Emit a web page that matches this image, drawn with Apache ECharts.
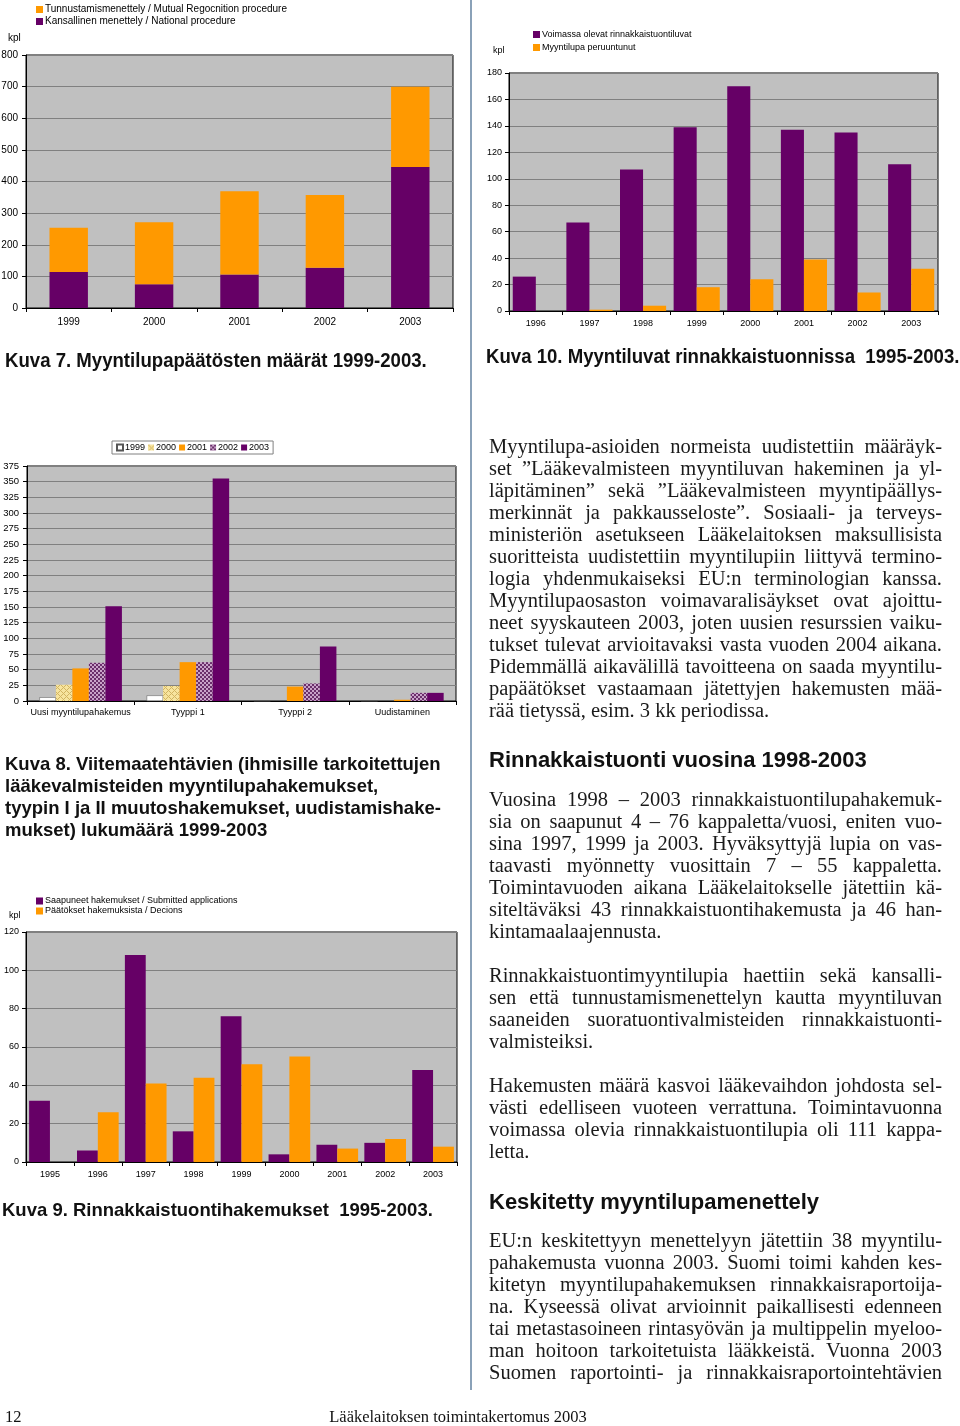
<!DOCTYPE html>
<html>
<head>
<meta charset="utf-8">
<script src="https://cdn.jsdelivr.net/npm/echarts@6/dist/echarts.min.js"></script>
<style>
  html,body{margin:0;padding:0;background:#fff;}
  #page{position:relative;width:960px;height:1426px;overflow:hidden;background:#fff;}
  #chart{position:absolute;left:0;top:0;width:960px;height:1426px;}
  .cap{position:absolute;font-family:'Liberation Sans',Arial,sans-serif;font-weight:bold;color:#111;white-space:nowrap;font-size:20px;line-height:22px;transform:scaleX(0.93);transform-origin:0 0;}
  .cap2{position:absolute;font-family:'Liberation Sans',Arial,sans-serif;font-weight:bold;color:#111;white-space:nowrap;font-size:18.5px;line-height:22px;}
  .head{position:absolute;left:489px;font-family:'Liberation Sans',Arial,sans-serif;font-weight:bold;color:#111;white-space:nowrap;font-size:22px;line-height:24px;}
  .para{position:absolute;left:489px;width:453px;font-family:'Liberation Serif','Times New Roman',serif;font-size:20.5px;line-height:22px;color:#1a1a1a;}
  .para div{text-align:justify;text-align-last:justify;white-space:nowrap;}
  .para div.last{text-align-last:left;}
  .foot{position:absolute;font-family:'Liberation Serif','Times New Roman',serif;font-size:16.5px;line-height:18px;color:#111;white-space:nowrap;}
  #divider{position:absolute;left:470px;top:0;width:1.5px;height:1390px;background:#8aa1b8;}
</style>
</head>
<body>
<div id="page">
  <div id="chart"></div>
  <div id="divider"></div>

  <div class="cap" style="left:5px;top:349px;">Kuva 7. Myyntilupapäätösten määrät 1999-2003.</div>
  <div class="cap" style="left:486px;top:345px;">Kuva 10. Myyntiluvat rinnakkaistuonnissa&nbsp; 1995-2003.</div>

  <div class="cap2" style="left:5px;top:753px;">Kuva 8. Viitemaatehtävien (ihmisille tarkoitettujen<br>lääkevalmisteiden myyntilupahakemukset,<br>tyypin I ja II muutoshakemukset, uudistamishake-<br>mukset) lukumäärä 1999-2003</div>
  <div class="cap2" style="left:2px;top:1199px;">Kuva 9. Rinnakkaistuontihakemukset&nbsp; 1995-2003.</div>

  <div class="para" style="top:435px;">
    <div>Myyntilupa-asioiden normeista uudistettiin määräyk-</div>
    <div>set ”Lääkevalmisteen myyntiluvan hakeminen ja yl-</div>
    <div>läpitäminen” sekä ”Lääkevalmisteen myyntipäällys-</div>
    <div>merkinnät ja pakkausseloste”. Sosiaali- ja terveys-</div>
    <div>ministeriön asetukseen Lääkelaitoksen maksullisista</div>
    <div>suoritteista uudistettiin myyntilupiin liittyvä termino-</div>
    <div>logia yhdenmukaiseksi EU:n terminologian kanssa.</div>
    <div>Myyntilupaosaston voimavaralisäykset ovat ajoittu-</div>
    <div>neet syyskauteen 2003, joten uusien resurssien vaiku-</div>
    <div>tukset tulevat arvioitavaksi vasta vuoden 2004 aikana.</div>
    <div>Pidemmällä aikavälillä tavoitteena on saada myyntilu-</div>
    <div>papäätökset vastaamaan jätettyjen hakemusten mää-</div>
    <div class="last">rää tietyssä, esim. 3 kk periodissa.</div>
  </div>

  <div class="head" style="top:748px;">Rinnakkaistuonti vuosina 1998-2003</div>

  <div class="para" style="top:788px;">
    <div>Vuosina 1998 – 2003 rinnakkaistuontilupahakemuk-</div>
    <div>sia on saapunut 4 – 76 kappaletta/vuosi, eniten vuo-</div>
    <div>sina 1997, 1999 ja 2003. Hyväksyttyjä lupia on vas-</div>
    <div>taavasti myönnetty vuosittain 7 – 55 kappaletta.</div>
    <div>Toimintavuoden aikana Lääkelaitokselle jätettiin kä-</div>
    <div>siteltäväksi 43 rinnakkaistuontihakemusta ja 46 han-</div>
    <div class="last">kintamaalaajennusta.</div>
  </div>

  <div class="para" style="top:964px;">
    <div>Rinnakkaistuontimyyntilupia haettiin sekä kansalli-</div>
    <div>sen että tunnustamismenettelyn kautta myyntiluvan</div>
    <div>saaneiden suoratuontivalmisteiden rinnakkaistuonti-</div>
    <div class="last">valmisteiksi.</div>
  </div>

  <div class="para" style="top:1074px;">
    <div>Hakemusten määrä kasvoi lääkevaihdon johdosta sel-</div>
    <div>västi edelliseen vuoteen verrattuna. Toimintavuonna</div>
    <div>voimassa olevia rinnakkaistuontilupia oli 111 kappa-</div>
    <div class="last">letta.</div>
  </div>

  <div class="head" style="top:1190px;">Keskitetty myyntilupamenettely</div>

  <div class="para" style="top:1229px;">
    <div>EU:n keskitettyyn menettelyyn jätettiin 38 myyntilu-</div>
    <div>pahakemusta vuonna 2003. Suomi toimi kahden kes-</div>
    <div>kitetyn myyntilupahakemuksen rinnakkaisraportoija-</div>
    <div>na. Kyseessä olivat arvioinnit paikallisesti edenneen</div>
    <div>tai metastasoineen rintasyövän ja multippelin myeloo-</div>
    <div>man hoitoon tarkoitetuista lääkkeistä. Vuonna 2003</div>
    <div>Suomen raportointi- ja rinnakkaisraportointehtävien</div>
  </div>

  <div class="foot" style="left:5px;top:1408px;">12</div>
  <div class="foot" style="left:258px;width:400px;text-align:center;top:1408px;">Lääkelaitoksen toimintakertomus 2003</div>
</div>

<script>
// ---- Kuva 7 ----
const years7 = ['1999', '2000', '2001', '2002', '2003'];
const national7 = [114, 75, 106, 127, 446];
const mutual7 = [140, 196, 263, 230, 254];

// ---- Kuva 10 ----
const years10 = ['1996', '1997', '1998', '1999', '2000', '2001', '2002', '2003'];
const valid10 = [26, 67, 107, 139, 170, 137, 135, 111];
const revoked10 = [0, 1, 4, 18, 24, 39, 14, 32];

// ---- Kuva 8 ----
const cats8 = ['Uusi myyntilupahakemus', 'Tyyppi 1', 'Tyyppi 2', 'Uudistaminen'];
const v8y1999 = [6, 9, 0, 0];
const v8y2000 = [26, 24, 0, 0];
const v8y2001 = [52, 62, 23, 2];
const v8y2002 = [61, 62, 28, 13];
const v8y2003 = [151, 355, 87, 13];

// ---- Kuva 9 ----
const years9 = ['1995', '1996', '1997', '1998', '1999', '2000', '2001', '2002', '2003'];
const submitted9 = [32, 6, 108, 16, 76, 4, 9, 10, 48];
const decisions9 = [0, 26, 41, 44, 51, 55, 7, 12, 8];

const FONT = "'Liberation Sans', Arial, Helvetica, sans-serif";
const PURPLE = '#660066', ORANGE = '#FF9900', PLOT = '#C0C0C0', GRIDLINE = '#808080';

function pattern(kind) {
  const c = document.createElement('canvas');
  const g = c.getContext('2d');
  if (kind === 'check') {
    c.width = 4; c.height = 4;
    g.fillStyle = '#C8A2C8'; g.fillRect(0, 0, 4, 4);
    g.fillStyle = '#6A2E6A'; g.fillRect(0, 0, 2, 2); g.fillRect(2, 2, 2, 2);
  } else {
    c.width = 6; c.height = 6;
    g.fillStyle = '#F7E49E'; g.fillRect(0, 0, 6, 6);
    g.fillStyle = '#D2B462';
    g.fillRect(0, 0, 1, 1); g.fillRect(3, 3, 1, 1);
    g.fillRect(1, 1, 1, 1); g.fillRect(2, 2, 1, 1);
    g.fillRect(4, 4, 1, 1); g.fillRect(5, 5, 1, 1);
    g.fillRect(5, 1, 1, 1); g.fillRect(1, 5, 1, 1);
    g.fillRect(4, 2, 1, 1); g.fillRect(2, 4, 1, 1);
  }
  return { image: c, repeat: 'repeat' };
}

function grid(l, t, w, h) {
  return { left: l, top: t, width: w, height: h, show: true, backgroundColor: PLOT,
    borderColor: '#000', borderWidth: 1, containLabel: false, outerBoundsMode: 'none' };
}
function yAxis(gi, max, interval, fs, margin) {
  return { type: 'value', gridIndex: gi, min: 0, max: max, interval: interval,
    axisLine: { show: true, lineStyle: { color: '#000', width: 1 } },
    axisTick: { show: true, length: 4, lineStyle: { color: '#000' } },
    axisLabel: { color: '#000', fontSize: fs, fontFamily: FONT, margin: margin },
    splitLine: { show: true, lineStyle: { color: GRIDLINE, width: 1 } } };
}
function xAxis(gi, data, fs, margin) {
  return { type: 'category', gridIndex: gi, data: data,
    axisLine: { show: true, onZero: false, lineStyle: { color: '#000', width: 1 } },
    axisTick: { show: true, length: 4, lineStyle: { color: '#000' } },
    axisLabel: { color: '#000', fontSize: fs, fontFamily: FONT, margin: margin, interval: 0 },
    splitLine: { show: false } };
}
function legend(left, top, names, fs, lh, gap, orient) {
  return { left: left, top: top, orient: orient || 'vertical', data: names, selectedMode: false,
    icon: 'rect', itemWidth: 7, itemHeight: 7, itemGap: gap, padding: 0,
    textStyle: { color: '#000', fontSize: fs, fontFamily: FONT, lineHeight: lh, padding: [0, 0, 0, -3] } };
}

const chart = echarts.init(document.getElementById('chart'));
const option = {
  animation: false,
  backgroundColor: 'transparent',
  grid: [
    grid(26, 55, 427, 253),
    grid(509, 73, 429, 238),
    grid(27, 466, 429, 235),
    grid(26, 932, 431, 230)
  ],
  xAxis: [
    xAxis(0, years7, 10, 9),
    xAxis(1, years10, 9, 8),
    xAxis(2, cats8, 9, 7),
    xAxis(3, years9, 9, 8)
  ],
  yAxis: [
    yAxis(0, 800, 100, 10, 8),
    yAxis(1, 180, 20, 9, 7),
    yAxis(2, 375, 25, 9.5, 8),
    yAxis(3, 120, 20, 9, 7)
  ],
  legend: [
    legend(36, 4, ['Tunnustamismenettely / Mutual Regocnition procedure', 'Kansallinen menettely / National procedure'], 10, 11, 1),
    legend(533, 29, ['Voimassa olevat rinnakkaistuontiluvat', 'Myyntilupa peruuntunut'], 9, 11, 2),
    Object.assign(legend(112, 441, ['1999', '2000', '2001', '2002', '2003'], 9, 13, 3, 'horizontal'),
      { padding: [0, 4, 0, 4], borderColor: '#808080', borderWidth: 1, backgroundColor: '#fff', itemWidth: 6, itemHeight: 6 }),
    legend(36, 896, ['Saapuneet hakemukset / Submitted applications', 'Päätökset hakemuksista / Decions'], 9, 10, 0)
  ],
  graphic: [
    { type: 'text', left: 8, top: 33, style: { text: 'kpl', fill: '#000', font: '10px ' + FONT } },
    { type: 'text', left: 493, top: 46, style: { text: 'kpl', fill: '#000', font: '9px ' + FONT } },
    { type: 'text', left: 9, top: 911, style: { text: 'kpl', fill: '#000', font: '9px ' + FONT } }
  ],
  series: [
    { name: 'Kansallinen menettely / National procedure', type: 'bar', xAxisIndex: 0, yAxisIndex: 0,
      stack: 's7', data: national7, barWidth: '45%', itemStyle: { color: PURPLE } },
    { name: 'Tunnustamismenettely / Mutual Regocnition procedure', type: 'bar', xAxisIndex: 0, yAxisIndex: 0,
      stack: 's7', data: mutual7, barWidth: '45%', itemStyle: { color: ORANGE } },

    { name: 'Voimassa olevat rinnakkaistuontiluvat', type: 'bar', xAxisIndex: 1, yAxisIndex: 1,
      data: valid10, barGap: '0%', barCategoryGap: '14%', itemStyle: { color: PURPLE } },
    { name: 'Myyntilupa peruuntunut', type: 'bar', xAxisIndex: 1, yAxisIndex: 1,
      data: revoked10, barGap: '0%', barCategoryGap: '14%', itemStyle: { color: ORANGE } },

    { name: '1999', type: 'bar', xAxisIndex: 2, yAxisIndex: 2, data: v8y1999, barGap: '0%', barCategoryGap: '23%',
      itemStyle: { color: '#FFFFFF', borderColor: '#555', borderWidth: 0.5 } },
    { name: '2000', type: 'bar', xAxisIndex: 2, yAxisIndex: 2, data: v8y2000, barGap: '0%', barCategoryGap: '23%',
      itemStyle: { color: pattern('diamond') } },
    { name: '2001', type: 'bar', xAxisIndex: 2, yAxisIndex: 2, data: v8y2001, barGap: '0%', barCategoryGap: '23%',
      itemStyle: { color: ORANGE } },
    { name: '2002', type: 'bar', xAxisIndex: 2, yAxisIndex: 2, data: v8y2002, barGap: '0%', barCategoryGap: '23%',
      itemStyle: { color: pattern('check') } },
    { name: '2003', type: 'bar', xAxisIndex: 2, yAxisIndex: 2, data: v8y2003, barGap: '0%', barCategoryGap: '23%',
      itemStyle: { color: PURPLE } },

    { name: 'Saapuneet hakemukset / Submitted applications', type: 'bar', xAxisIndex: 3, yAxisIndex: 3,
      data: submitted9, barGap: '0%', barCategoryGap: '13%', itemStyle: { color: PURPLE } },
    { name: 'Päätökset hakemuksista / Decions', type: 'bar', xAxisIndex: 3, yAxisIndex: 3,
      data: decisions9, barGap: '0%', barCategoryGap: '13%', itemStyle: { color: ORANGE } }
  ]
};
chart.setOption(option);
</script>
</body>
</html>
